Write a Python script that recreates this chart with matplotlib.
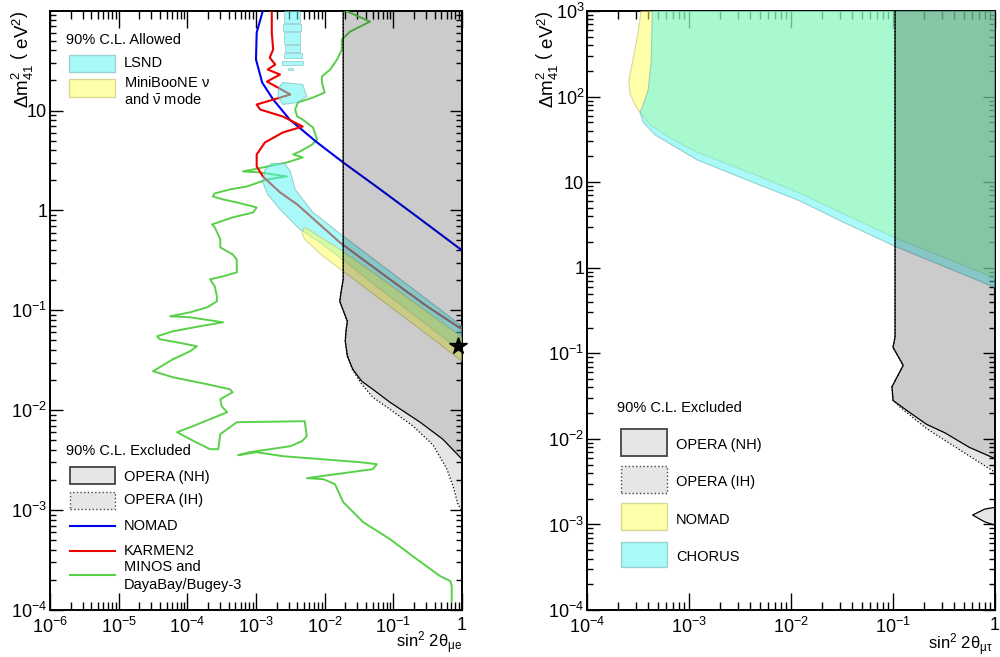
import numpy as np
import matplotlib
matplotlib.use('Agg')
import matplotlib.pyplot as plt
from matplotlib.patches import Rectangle
from matplotlib.lines import Line2D
from matplotlib.ticker import LogLocator, FuncFormatter, NullFormatter

plt.rcParams['font.family'] = ['Liberation Sans', 'DejaVu Sans']
plt.rcParams['mathtext.fontset'] = 'custom'
plt.rcParams['mathtext.rm'] = 'Liberation Sans'
plt.rcParams['mathtext.it'] = 'Liberation Sans:italic'
plt.rcParams['mathtext.bf'] = 'Liberation Sans:bold'
plt.rcParams['mathtext.default'] = 'regular'

# ---- data, stored as log10(sin^2 2theta) and log10(dm^2 / eV^2) ----
# left panel: numu -> nue
opera_nh_e_s2 = [-1.73, -1.73, -1.76, -1.78, -1.72, -1.67, -1.69, -1.70, -1.67, -1.59, -1.46, -1.30, -1.05, -0.61, -0.28, 0.0]
opera_nh_e_dm2 = [2.0, -0.69, -0.81, -0.91, -1.02, -1.11, -1.21, -1.31, -1.46, -1.59, -1.71, -1.79, -1.92, -2.12, -2.29, -2.49]
opera_ih_e_s2 = [-1.73, -1.73, -1.76, -1.78, -1.72, -1.67, -1.69, -1.70, -1.67, -1.60, -1.46, -1.30, -1.05, -0.71, -0.42, -0.22, -0.13, -0.06, 0.0]
opera_ih_e_dm2 = [2.0, -0.69, -0.81, -0.91, -1.02, -1.11, -1.21, -1.31, -1.44, -1.59, -1.74, -1.87, -1.99, -2.16, -2.35, -2.59, -2.76, -2.94, -3.01]

nomad_e_s2 = [-2.90, -2.99, -3.00, -2.91, -2.75, -2.51, -2.11, -1.73, -1.19, -0.66, 0.0]
nomad_e_dm2 = [2.0, 1.78, 1.51, 1.28, 1.11, 0.91, 0.68, 0.48, 0.21, -0.06, -0.40]

karmen_s2 = [-2.77, -2.77, -2.75, -2.80, -2.72, -2.83, -2.65, -2.84, -2.50, -2.99, -2.94, -2.61, -2.32, -2.61,
             -2.87, -2.99, -2.99, -2.90, -2.65, -2.40, -1.78, -1.05, -0.51, 0.0]
karmen_dm2 = [2.0, 1.78, 1.61, 1.53, 1.46, 1.41, 1.36, 1.29, 1.16, 1.06, 1.01, 0.94, 0.84, 0.78,
              0.68, 0.56, 0.44, 0.34, 0.18, 0.06, -0.32, -0.69, -0.96, -1.19]

minos_s2 = [-1.70, -1.34, -1.63, -1.75, -1.75, -1.82, -1.92, -2.04, -2.04, -2.00,
            -2.17, -2.39, -2.43, -2.40, -2.32, -2.17, -2.11, -2.18, -2.36, -2.46,
            -2.32, -2.55, -3.04, -3.19, -2.94, -2.55, -2.84, -3.13, -3.38, -3.60,
            -3.63, -3.48, -3.28, -2.99, -3.04, -3.34, -3.64, -3.60, -3.52, -3.52,
            -3.34, -3.28, -3.28, -3.48, -3.67, -3.60, -3.57, -3.57, -3.71, -3.96,
            -4.25, -3.96, -3.48, -3.82, -4.21, -4.44, -4.40, -4.15, -3.86, -3.96,
            -4.21, -4.50, -4.21, -3.71, -3.38, -3.34, -3.52, -3.50, -3.42, -3.92,
            -4.15, -3.96, -3.67, -3.55, -3.52, -3.28, -2.29, -2.26, -2.33, -2.50,
            -3.09, -3.26, -2.99, -2.61, -1.49, -1.24, -1.30, -2.26, -2.02, -1.85,
            -1.73, -1.44, -1.05, -0.66, -0.32, -0.17, -0.15, -0.15]
minos_dm2 = [2.0, 1.89, 1.79, 1.71, 1.61, 1.51, 1.41, 1.34, 1.28, 1.18,
             1.13, 1.08, 1.01, 0.94, 0.91, 0.83, 0.71, 0.66, 0.59, 0.56,
             0.53, 0.48, 0.41, 0.39, 0.38, 0.34, 0.31, 0.24, 0.21, 0.17,
             0.14, 0.11, 0.08, 0.03, -0.02, -0.07, -0.14, -0.17, -0.29, -0.37,
             -0.44, -0.49, -0.62, -0.66, -0.69, -0.76, -0.86, -0.91, -0.97, -1.02,
             -1.06, -1.07, -1.12, -1.16, -1.21, -1.26, -1.29, -1.32, -1.36, -1.41,
             -1.49, -1.61, -1.67, -1.74, -1.79, -1.82, -1.89, -1.96, -2.02, -2.16,
             -2.22, -2.29, -2.39, -2.39, -2.24, -2.12, -2.11, -2.26, -2.31, -2.36,
             -2.42, -2.45, -2.42, -2.46, -2.52, -2.54, -2.59, -2.68, -2.69, -2.74,
             -2.92, -3.12, -3.29, -3.49, -3.66, -3.71, -3.76, -3.91]

lsnd_s2 = [-2.87, -2.77, -2.58, -2.50, -2.43, -2.17, -1.78, -1.30, -0.80, -0.32, 0.0,
           0.0, -0.22, -0.71, -1.19, -1.67, -2.07, -2.36, -2.65, -2.83, -2.90]
lsnd_dm2 = [0.41, 0.47, 0.47, 0.39, 0.21, -0.02, -0.23, -0.48, -0.74, -0.99, -1.16,
            -1.42, -1.30, -1.04, -0.79, -0.53, -0.32, -0.19, 0.01, 0.16, 0.28]
lsnd_blob_s2 = [-2.61, -2.32, -2.26, -2.40, -2.61, -2.68, -2.67]
lsnd_blob_dm2 = [1.28, 1.26, 1.14, 1.08, 1.06, 1.14, 1.23]
# small islands: (s2 low, s2 high, dm2 low, dm2 high)
lsnd_islands = [(-2.59, -2.36, 1.88, 2.0), (-2.61, -2.34, 1.80, 1.87), (-2.59, -2.36, 1.67, 1.79),
                (-2.58, -2.36, 1.59, 1.66), (-2.59, -2.33, 1.53, 1.58), (-2.62, -2.32, 1.46, 1.50),
                (-2.53, -2.46, 1.41, 1.43)]

miniboone_s2 = [-2.33, -2.30, -2.26, -1.78, -1.30, -0.80, -0.32, 0.0,
                0.0, -0.32, -0.80, -1.19, -1.67, -2.02, -2.29]
miniboone_dm2 = [-0.23, -0.17, -0.18, -0.39, -0.62, -0.87, -1.11, -1.27,
                 -1.51, -1.34, -1.09, -0.89, -0.64, -0.46, -0.29]
best_fit = (0.87, 0.044)

# right panel: numu -> nutau
opera_nh_t_s2 = [-0.98, -0.98, -1.00, -0.90, -1.01, -1.00, -0.85, -0.67, -0.49, -0.25, 0.0]
opera_nh_t_dm2 = [3.0, -0.81, -0.93, -1.14, -1.39, -1.55, -1.68, -1.83, -1.93, -2.10, -2.23]
opera_ih_t_s2 = [-0.98, -0.98, -1.00, -0.90, -1.01, -1.00, -0.93, -0.67, -0.33, 0.0]
opera_ih_t_dm2 = [3.0, -0.81, -0.93, -1.14, -1.39, -1.55, -1.63, -1.88, -2.14, -2.39]
opera_isl_t_s2 = [-0.22, -0.10, 0.0, 0.0, -0.10, -0.22]
opera_isl_t_dm2 = [-2.89, -2.82, -2.80, -3.01, -2.97, -2.89]

nomad_t_s2 = [-3.47, -3.50, -3.55, -3.59, -3.58, -3.52, -3.47, -3.38, -3.19, -2.92, -2.40, -1.91, -1.52, -0.98, 0.0]
nomad_t_dm2 = [3.0, 2.74, 2.43, 2.19, 2.04, 1.88, 1.80, 1.67, 1.52, 1.35, 1.11, 0.87, 0.65, 0.35, -0.12]
chorus_t_s2 = [-3.36, -3.37, -3.40, -3.45, -3.48, -3.45, -3.33, -3.19, -2.92, -2.40, -1.91, -1.52, -0.98, 0.0]
chorus_t_dm2 = [3.0, 2.43, 2.08, 1.90, 1.82, 1.70, 1.55, 1.45, 1.26, 1.01, 0.78, 0.55, 0.25, -0.23]

# colours
cyan_face = (0.333, 0.96, 0.96, 0.5)
cyan_edge = (0.45, 0.70, 0.70, 0.6)
yellow_face = (1.0, 1.0, 0.333, 0.5)
yellow_edge = (0.75, 0.75, 0.45, 0.6)
ih_shade = (0, 0, 0, 0.10)     # OPERA IH: darkens what lies under it
nh_shade = (0, 0, 0, 0.111)    # OPERA NH on top of IH -> ~#cccccc on white
legend_grey = '#e6e6e6'
green_line = '#5ad04a'


def L(v):
    return 10 ** np.asarray(v, dtype=float)


def exclusion(ax, s2, dm2, top, **kw):
    # region to the right of a contour that runs from the top edge to sin^2=1
    xs = np.append(L(s2), 1.0)
    ys = np.append(L(dm2), top)
    return ax.fill(xs, ys, **kw)


def fmt(v, pos):
    e = int(round(np.log10(v)))
    if e == 0:
        return '1'
    if e == 1:
        return '10'
    return r'$10^{%d}$' % e


def setup(ax, xlim, ylim):
    ax.set_xscale('log')
    ax.set_yscale('log')
    ax.set_xlim(*xlim)
    ax.set_ylim(*ylim)
    for axis in (ax.xaxis, ax.yaxis):
        axis.set_major_locator(LogLocator(base=10, numticks=30))
        axis.set_minor_locator(LogLocator(base=10, subs=np.arange(2, 10), numticks=30))
        axis.set_major_formatter(FuncFormatter(fmt))
        axis.set_minor_formatter(NullFormatter())
    ax.tick_params(which='both', direction='in', top=True, right=True, labelsize=13, width=1)
    ax.tick_params(axis='x', which='major', length=12, pad=5)
    ax.tick_params(axis='x', which='minor', length=6)
    ax.tick_params(axis='y', which='major', length=9, pad=2)
    ax.tick_params(axis='y', which='minor', length=4.5)
    for s in ax.spines.values():
        s.set_linewidth(1.4)


def box(ax, x0, x1, y0, y1, **kw):
    ax.add_patch(Rectangle((x0, y0), x1 - x0, y1 - y0, transform=ax.transAxes,
                           clip_on=False, zorder=10, **kw))


def sample_line(ax, x0, x1, y, **kw):
    ax.add_line(Line2D([x0, x1], [y, y], transform=ax.transAxes, zorder=10, **kw))


def label(ax, x, y, s):
    ax.text(x, y, s, transform=ax.transAxes, fontsize=10.5, va='center', ha='left', zorder=10)


fig = plt.figure(figsize=(10, 6.57), dpi=100)
axL = fig.add_axes([0.050, 0.0715, 0.412, 0.9117])
axR = fig.add_axes([0.587, 0.0715, 0.408, 0.9117])

# ---------------- left panel ----------------
axL.plot(L(minos_s2), L(minos_dm2), color=green_line, lw=1.4, zorder=3)
axL.plot(L(nomad_e_s2), L(nomad_e_dm2), color='#0000ee', lw=1.5, zorder=3)
axL.plot(L(karmen_s2), L(karmen_dm2), color='#ee0000', lw=1.5, zorder=3)

axL.fill(L(lsnd_s2), L(lsnd_dm2), facecolor=cyan_face, edgecolor=cyan_edge, lw=0.8, zorder=4)
axL.fill(L(lsnd_blob_s2), L(lsnd_blob_dm2), facecolor=cyan_face, edgecolor=cyan_edge, lw=0.8, zorder=4)
for a, b, c, d in lsnd_islands:
    axL.fill(L([a, b, b, a]), L([c, c, d, d]), facecolor=cyan_face, edgecolor=cyan_edge, lw=0.6, zorder=4)
axL.fill(L(miniboone_s2), L(miniboone_dm2), facecolor=yellow_face, edgecolor=yellow_edge, lw=0.8, zorder=4.1)

exclusion(axL, opera_ih_e_s2, opera_ih_e_dm2, 1e2, facecolor=ih_shade, lw=0, zorder=4.5)
exclusion(axL, opera_nh_e_s2, opera_nh_e_dm2, 1e2, facecolor=nh_shade, lw=0, zorder=4.6)
axL.plot(L(opera_nh_e_s2), L(opera_nh_e_dm2), color='k', lw=0.9, zorder=5)
axL.plot(L(opera_ih_e_s2), L(opera_ih_e_dm2), color='k', lw=0.9, ls=':', zorder=5)
axL.plot([best_fit[0]], [best_fit[1]], marker='*', ms=13, color='k', clip_on=False, zorder=7)

setup(axL, (1e-6, 1.0), (1e-4, 99))

# legends (axes fraction)
label(axL, 0.039, 0.952, '90% C.L. Allowed')
box(axL, 0.046, 0.158, 0.898, 0.927, facecolor=cyan_face, edgecolor=cyan_edge, lw=1)
label(axL, 0.180, 0.913, 'LSND')
box(axL, 0.046, 0.158, 0.856, 0.886, facecolor=yellow_face, edgecolor=yellow_edge, lw=1)
label(axL, 0.180, 0.880, r'MiniBooNE $\nu$')
label(axL, 0.180, 0.852, r'and $\bar{\nu}$ mode')

label(axL, 0.039, 0.265, '90% C.L. Excluded')
box(axL, 0.048, 0.158, 0.210, 0.239, facecolor=legend_grey, edgecolor='#444444', lw=1.3)
label(axL, 0.180, 0.222, 'OPERA (NH)')
box(axL, 0.048, 0.158, 0.169, 0.197, facecolor=legend_grey, edgecolor='#444444', lw=1.0, ls=':')
label(axL, 0.180, 0.184, 'OPERA (IH)')
sample_line(axL, 0.048, 0.158, 0.140, color='#0000ee', lw=1.5)
label(axL, 0.180, 0.140, 'NOMAD')
sample_line(axL, 0.048, 0.158, 0.0985, color='#ee0000', lw=1.5)
label(axL, 0.180, 0.0985, 'KARMEN2')
sample_line(axL, 0.048, 0.158, 0.058, color=green_line, lw=1.5)
label(axL, 0.180, 0.071, 'MINOS and')
label(axL, 0.180, 0.042, 'DayaBay/Bugey-3')

axL.text(1.0, -0.054, r'sin$^{2}$ 2$\theta_{\mu e}$', transform=axL.transAxes,
         ha='right', va='center', fontsize=12)

# ---------------- right panel ----------------
exclusion(axR, nomad_t_s2, nomad_t_dm2, 1e3, facecolor=yellow_face, edgecolor=yellow_edge, lw=0.8, zorder=3)
exclusion(axR, chorus_t_s2, chorus_t_dm2, 1e3, facecolor=cyan_face, edgecolor=cyan_edge, lw=0.8, zorder=3.1)

exclusion(axR, opera_ih_t_s2, opera_ih_t_dm2, 1e3, facecolor=ih_shade, lw=0, zorder=4)
exclusion(axR, opera_nh_t_s2, opera_nh_t_dm2, 1e3, facecolor=nh_shade, lw=0, zorder=4.1)
axR.fill(L(opera_isl_t_s2), L(opera_isl_t_dm2), facecolor=ih_shade, edgecolor='k', lw=0.9, zorder=4.2)

axR.plot(L(opera_nh_t_s2), L(opera_nh_t_dm2), color='k', lw=0.9, zorder=5)
axR.plot(L(opera_ih_t_s2), L(opera_ih_t_dm2), color='k', lw=0.9, ls=':', zorder=5)

setup(axR, (1e-4, 1.0), (1e-4, 1e3))

label(axR, 0.074, 0.337, '90% C.L. Excluded')
box(axR, 0.083, 0.196, 0.257, 0.302, facecolor=legend_grey, edgecolor='#444444', lw=1.3)
label(axR, 0.218, 0.275, 'OPERA (NH)')
box(axR, 0.083, 0.196, 0.195, 0.240, facecolor=legend_grey, edgecolor='#444444', lw=1.0, ls=':')
label(axR, 0.218, 0.214, 'OPERA (IH)')
box(axR, 0.083, 0.196, 0.134, 0.179, facecolor=yellow_face, edgecolor=yellow_edge, lw=1)
label(axR, 0.218, 0.150, 'NOMAD')
box(axR, 0.083, 0.196, 0.072, 0.114, facecolor=cyan_face, edgecolor=cyan_edge, lw=1)
label(axR, 0.218, 0.088, 'CHORUS')

axR.text(0.995, -0.058, r'sin$^{2}$ 2$\theta_{\mu\tau}$', transform=axR.transAxes,
         ha='right', va='center', fontsize=12)

ylab = r'$\Delta m^{2}_{41}\ \left(\ eV^{2}\right)$'
fig.text(0.022, 1 - 10 / 657, ylab, rotation=90, ha='center', va='top', fontsize=13.5)
fig.text(0.547, 1 - 10 / 657, ylab, rotation=90, ha='center', va='top', fontsize=13.5)

fig.savefig('out.png', dpi=100)
